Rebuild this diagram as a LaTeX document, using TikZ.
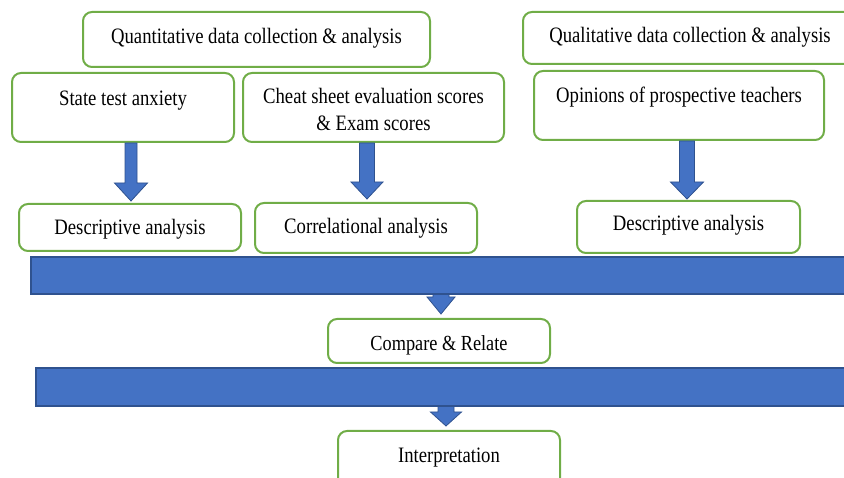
\documentclass[tikz,border=0pt]{standalone}
\usepackage{fontspec}
\setmainfont{Liberation Serif}[FakeStretch=0.85]
\definecolor{boxgreen}{HTML}{70AD47}
\definecolor{barblue}{HTML}{4472C4}
\definecolor{bardark}{HTML}{2F528F}
\newcommand{\blockarrow}[6]{% x, ytop, yhead, ytip, shaft half, head half
  \fill[barblue, draw=bardark, line width=0.8pt, line join=miter]
    ({#1-#5},#2) -- ({#1+#5},#2) -- ({#1+#5},#3) -- ({#1+#6},#3) --
    (#1,#4) -- ({#1-#6},#3) -- ({#1-#5},#3) -- cycle;}
\begin{document}
\begin{tikzpicture}[x=1pt,y=-1pt,
  box/.style={draw=boxgreen, line width=2pt, rounded corners=9pt, fill=white, inner sep=0pt},
  txt/.style={anchor=base, inner sep=0pt, font=\fontsize{22}{27}\selectfont, align=center},
  bar/.style={fill=barblue, draw=bardark, line width=1.5pt}]
\useasboundingbox (0,0) rectangle (844,478);
\clip (0,0) rectangle (844,478);
% boxes
\node[box, minimum width=347pt, minimum height=55pt] (quant) at (256.5,39.5) {};
\node[box, minimum width=334pt, minimum height=52pt] (qual) at (690,38) {};
\node[box, minimum width=222pt, minimum height=69pt] (state) at (123,107.5) {};
\node[box, minimum width=261pt, minimum height=69pt] (cheat) at (373.5,107.5) {};
\node[box, minimum width=290pt, minimum height=69pt] (opin) at (679,105.5) {};
\node[box, minimum width=222pt, minimum height=47pt] (dl) at (130,227.5) {};
\node[box, minimum width=222pt, minimum height=50pt] (corr) at (366,228) {};
\node[box, minimum width=223pt, minimum height=52pt] (dr) at (688.5,227) {};
\node[box, minimum width=222pt, minimum height=44pt] (comp) at (439,341) {};
\node[box, minimum width=222pt, minimum height=59pt] (interp) at (449,460.5) {};
% texts
\node[txt] (tquant) at (256.5,44) {Quantitative data collection \& analysis};
\node[txt] (tqual) at (690,43) {Qualitative data collection \& analysis};
\node[txt] (tstate) at (123,106) {State test anxiety};
\node[txt] (tcheat) at (373.5,131) {Cheat sheet evaluation scores\\\& Exam scores};
\node[txt] (topin) at (679,103) {Opinions of prospective teachers};
\node[txt] (tdl) at (130,235) {Descriptive analysis};
\node[txt] (tcorr) at (366,234) {Correlational analysis};
\node[txt] (tdr) at (688.5,231) {Descriptive analysis};
\node[txt, font=\fontsize{21.5}{26}\selectfont] (tcomp) at (439,351) {Compare \& Relate};
\node[txt] (tinterp) at (449,462) {Interpretation};
% arrows
\blockarrow{131}{143}{183}{201}{6}{16.5}
\blockarrow{367}{143}{182}{199}{7.5}{16}
\blockarrow{687}{141}{182}{199}{7.5}{16.5}
\blockarrow{441}{288}{297}{314}{8}{14}
\blockarrow{446}{400}{412}{426}{8}{15.5}
% bars
\draw[bar] (31,257) rectangle (860,294);
\draw[bar] (36,368) rectangle (860,406);
\end{tikzpicture}
\end{document}
